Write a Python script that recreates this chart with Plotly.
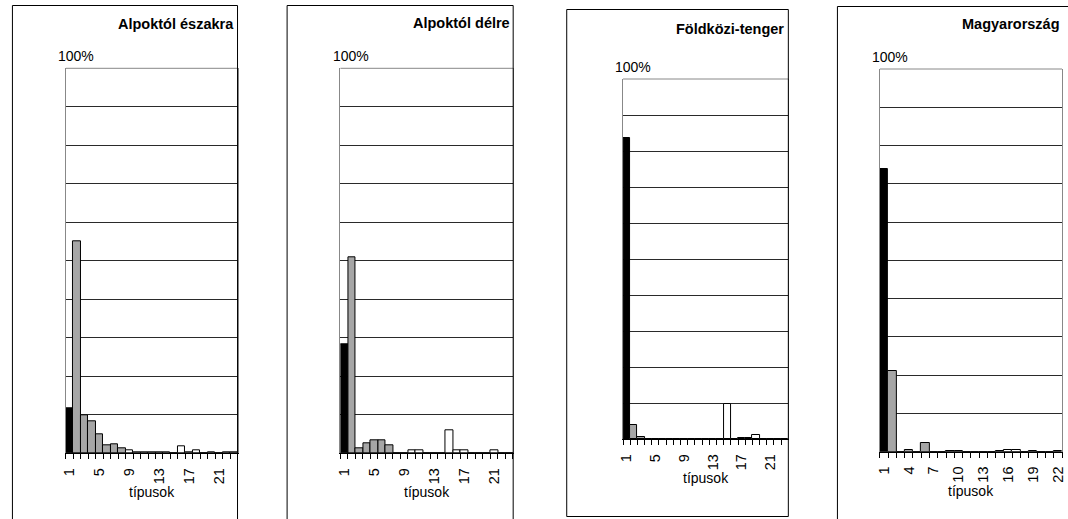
import plotly.graph_objects as go

# ---------------- data ----------------
categories_23 = list(range(1, 24))
categories_22 = list(range(1, 23))

tick_labels_23 = [1, 5, 9, 13, 17, 21]
tick_labels_22 = [1, 4, 7, 10, 13, 16, 19, 22]

titles = ["Alpoktól északra", "Alpoktól délre", "Földközi-tenger", "Magyarország"]
y_top_label = "100%"
x_title = "típusok"

values_alpoktol_eszakra = [11.7, 55.1, 9.9, 8.2, 5.0, 2.0, 2.3, 1.3, 0.9, 0.3, 0.2, 0.2,
                           0.2, 0.2, 0.0, 1.9, 0.2, 0.7, 0.0, 0.2, 0.0, 0.2, 0.2]
values_alpoktol_delre = [28.4, 50.8, 1.3, 2.6, 3.3, 3.3, 2.0, 0.0, 0.0, 0.7, 0.7, 0.0,
                         0.0, 0.0, 5.9, 0.7, 0.7, 0.0, 0.0, 0.0, 0.7, 0.0, 0.0]
values_foldkozi_tenger = [83.7, 4.0, 0.7, 0.0, 0.0, 0.0, 0.0, 0.0, 0.0, 0.0, 0.0, 0.0,
                          0.0, 0.0, 9.8, 0.0, 0.5, 0.5, 1.2, 0.0, 0.0, 0.0, 0.0]
values_magyarorszag = [73.9, 21.2, 0.0, 0.4, 0.0, 2.4, 0.0, 0.0, 0.2, 0.2, 0.0, 0.0,
                       0.0, 0.0, 0.2, 0.4, 0.5, 0.0, 0.2, 0.0, 0.0, 0.2]

# ---------------- layout (pixels) ----------------
W, H = 1068, 519
FONT = "Liberation Sans, Arial, sans-serif"

# plot areas: (left, right, top, bottom)
plot_boxes = [(61.5, 234.5, 68.3, 453.3),
              (338.3, 512.3, 68.3, 453.3),
              (623.3, 790.0, 79.0, 439.3),
              (882.3, 1066.0, 69.0, 451.7)]
# outer frames: (left, right, top, bottom)
frame_boxes = [(7.5, 234.5, 5.5, 540),
               (284.5, 512.5, 5.5, 540),
               (566.5, 790.0, 9.5, 516.5),
               (839.5, 1090, 6.5, 540)]
title_right = [233, 511.5, 788, 1066]
title_y = [24, 23.5, 29.5, 24]

series = [(categories_23, values_alpoktol_eszakra, tick_labels_23),
          (categories_23, values_alpoktol_delre, tick_labels_23),
          (categories_23, values_foldkozi_tenger, tick_labels_23),
          (categories_22, values_magyarorszag, tick_labels_22)]


def px(x):
    return x / W


def py(y):
    return 1 - y / H


def bar_color(c):
    if c == 1:
        return "#000000"
    if c <= 8:
        return "#a6a6a6"
    return "#ffffff"


fig = go.Figure()
shapes = []
annotations = []

for i, ((cats, vals, labels), (l, r, t, b), (fl, fr, ft, fb), tr, ty, title) in enumerate(
        zip(series, plot_boxes, frame_boxes, title_right, title_y, titles)):
    n = "" if i == 0 else str(i + 1)
    fig.add_trace(go.Bar(
        x=[str(c) for c in cats], y=vals,
        marker=dict(color=[bar_color(c) for c in cats],
                    line=dict(color="#000000", width=1)),
        xaxis="x" + n, yaxis="y" + n, showlegend=False, hoverinfo="x+y"))

    fig.layout["xaxis" + n] = dict(
        domain=[px(l), px(r)], anchor="y" + n, type="category",
        categoryorder="array", categoryarray=[str(c) for c in cats],
        tickmode="array", tickvals=[str(c) for c in cats],
        ticktext=[str(c) if c in labels else "" for c in cats],
        tickson="boundaries", ticks="outside", ticklen=5, tickcolor="#000000",
        tickangle=-90, tickfont=dict(family=FONT, size=14.5, color="#000000"),
        ticklabelstandoff=8,
        showline=True, linecolor="#000000", linewidth=1, showgrid=False,
        zeroline=False, fixedrange=True)
    fig.layout["yaxis" + n] = dict(
        domain=[py(b), py(t)], anchor="x" + n, range=[0, 100],
        tickmode="linear", tick0=0, dtick=10, showticklabels=False,
        showgrid=True, gridcolor="#2a2a2a", gridwidth=1,
        showline=True, linecolor="#888888", linewidth=1, mirror=True,
        zeroline=False, ticks="", fixedrange=True)

    # top border of plot area (gray)
    shapes.append(dict(type="line", xref="x%s domain" % n, yref="y%s domain" % n,
                       x0=0, x1=1, y0=1, y1=1, line=dict(color="#888888", width=1)))
    # outer frame
    shapes.append(dict(type="rect", xref="paper", yref="paper",
                       x0=px(fl), x1=px(fr), y0=py(fb), y1=py(ft),
                       line=dict(color="#000000", width=1), fillcolor="rgba(0,0,0,0)"))

    annotations.append(dict(text="<b>%s</b>" % title, xref="paper", yref="paper",
                            x=px(tr), y=py(ty), xanchor="right", yanchor="middle",
                            showarrow=False, font=dict(family=FONT, size=14.5, color="#000000")))
    annotations.append(dict(text=y_top_label, xref="paper", yref="paper",
                            x=px(l - 10), y=py(t - 2), xanchor="left", yanchor="bottom",
                            showarrow=False, font=dict(family=FONT, size=14, color="#000000")))
    annotations.append(dict(text=x_title, xref="paper", yref="paper",
                            x=px((l + r) / 2), y=py(b + 39), xanchor="center", yanchor="middle",
                            showarrow=False, font=dict(family=FONT, size=14, color="#000000")))

fig.update_layout(width=W, height=H, margin=dict(l=0, r=0, t=0, b=0),
                  paper_bgcolor="#ffffff", plot_bgcolor="#ffffff",
                  bargap=0, shapes=shapes, annotations=annotations,
                  font=dict(family=FONT))

fig.write_html("out.html")
